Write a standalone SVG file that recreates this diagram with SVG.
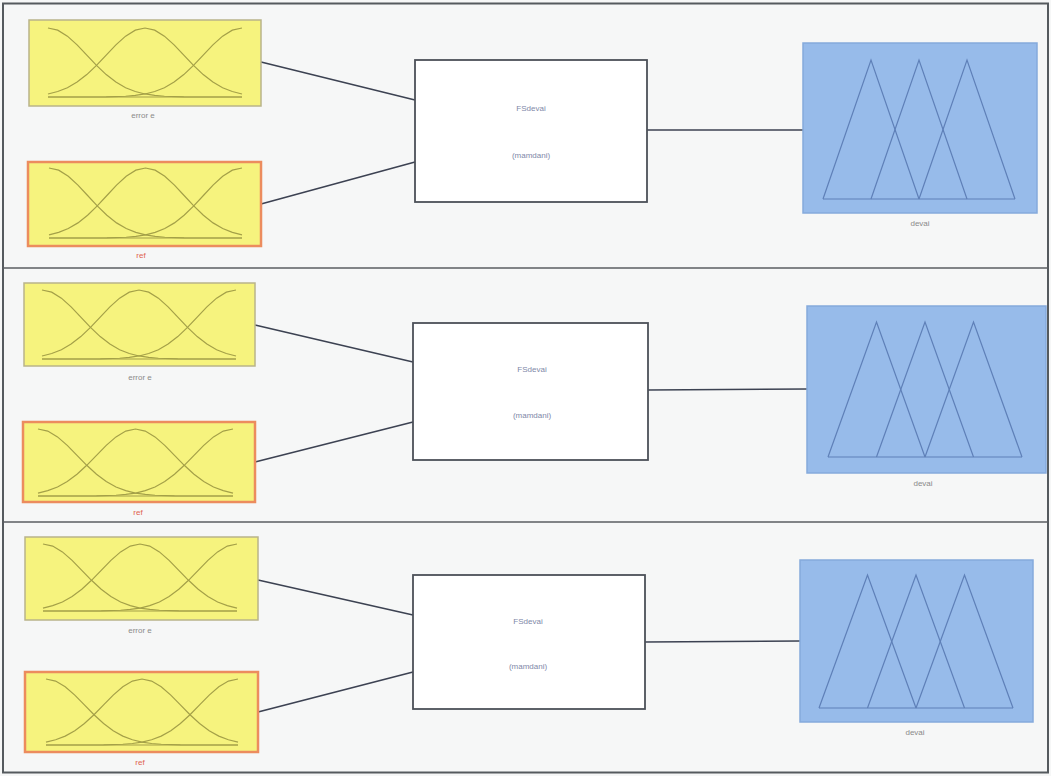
<svg xmlns="http://www.w3.org/2000/svg" width="1051" height="776" viewBox="0 0 1051 776">
<style>
.bg{fill:#f6f7f7}
.frame{fill:none;stroke:#555a5e;stroke-width:2}
.div{stroke:#5a5e62;stroke-width:1.6}
.in1{fill:#f6f37e;stroke:#b9b48a;stroke-width:1.5}
.in2{fill:#f6f37e;stroke:#ec8c5e;stroke-width:2.5}
.fis{fill:#ffffff;stroke:#4c5058;stroke-width:1.8}
.out{fill:#97bbea;stroke:#85aadc;stroke-width:1.5}
.gauss{fill:none;stroke:#a4a048;stroke-width:1.2}
.tri{fill:none;stroke:#5f80b8;stroke-width:1.2}
.conn line{stroke:#3c4252;stroke-width:1.6}
.lbl{font-family:"Liberation Sans",Arial,sans-serif;font-size:8px;fill:#8a8a8a;text-anchor:middle}
.lblr{font-family:"Liberation Sans",Arial,sans-serif;font-size:8px;fill:#e0624e;text-anchor:middle}
.ft{font-family:"Liberation Sans",Arial,sans-serif;font-size:8px;fill:#8088a8;text-anchor:middle}
</style>
<defs>
<g id="mfg">
<polyline vector-effect="non-scaling-stroke" points="0,0 10,3.1 20,11.8 30,24.5 40,39.3 50,54.2 60,67.5 70,78.4 80,86.5 90,92 100,95.6 110,97.7 120,98.9 140,99.8 200,100"/>
<polyline vector-effect="non-scaling-stroke" points="0,95.6 10,92 20,86.5 30,78.4 40,67.5 50,54.2 60,39.3 70,24.5 80,11.8 90,3.1 100,0 110,3.1 120,11.8 130,24.5 140,39.3 150,54.2 160,67.5 170,78.4 180,86.5 190,92 200,95.6"/>
<polyline vector-effect="non-scaling-stroke" points="0,100 60,99.8 80,98.9 90,97.7 100,95.6 110,92 120,86.5 130,78.4 140,67.5 150,54.2 160,39.3 170,24.5 180,11.8 190,3.1 200,0"/>
<line vector-effect="non-scaling-stroke" x1="0" y1="100" x2="200" y2="100"/>
</g>
<g id="mft">
<polyline vector-effect="non-scaling-stroke" points="0,100 50,0 100,100"/>
<polyline vector-effect="non-scaling-stroke" points="50,100 100,0 150,100"/>
<polyline vector-effect="non-scaling-stroke" points="100,100 150,0 200,100"/>
<line vector-effect="non-scaling-stroke" x1="0" y1="100" x2="200" y2="100"/>
</g>
</defs>
<rect class="bg" x="0" y="0" width="1051" height="776"/>
<rect class="frame" x="3" y="3.5" width="1045" height="769"/>
<line class="div" x1="3" y1="268" x2="1048" y2="268"/>
<line class="div" x1="3" y1="522" x2="1048" y2="522"/>

<g class="conn">
<line x1="261" y1="62" x2="415" y2="100"/>
<line x1="261" y1="204" x2="415" y2="162"/>
<line x1="647" y1="130" x2="803" y2="130"/>
<line x1="255" y1="325" x2="413" y2="362"/>
<line x1="255" y1="462" x2="413" y2="422"/>
<line x1="648" y1="390" x2="807" y2="389"/>
<line x1="258" y1="580" x2="413" y2="615"/>
<line x1="258" y1="712" x2="413" y2="672"/>
<line x1="645" y1="642" x2="800" y2="641"/>
</g>

<g id="p1-in1">
<rect class="in1" x="29" y="20" width="232" height="86"/>
<use href="#mfg" class="gauss" transform="translate(48,28) scale(0.97,0.69)"/>
<text class="lbl" x="143" y="118">error e</text>
</g>
<g id="p1-in2">
<rect class="in2" x="28" y="162" width="233" height="84"/>
<use href="#mfg" class="gauss" transform="translate(49,168) scale(0.965,0.70)"/>
<text class="lblr" x="141" y="258">ref</text>
</g>
<g id="p1-fis">
<rect class="fis" x="415" y="60" width="232" height="142"/>
<text class="ft" x="531" y="111">FSdevai</text>
<text class="ft" x="531" y="158">(mamdani)</text>
</g>
<g id="p1-out">
<rect class="out" x="803" y="43" width="234" height="170"/>
<use href="#mft" class="tri" transform="translate(823,60) scale(0.96,1.39)"/>
<text class="lbl" x="920" y="226">devai</text>
</g>

<g id="p2-in1">
<rect class="in1" x="24" y="283" width="231" height="83"/>
<use href="#mfg" class="gauss" transform="translate(42,290) scale(0.97,0.69)"/>
<text class="lbl" x="140" y="380">error e</text>
</g>
<g id="p2-in2">
<rect class="in2" x="23" y="422" width="232" height="80"/>
<use href="#mfg" class="gauss" transform="translate(38,429) scale(0.975,0.67)"/>
<text class="lblr" x="138" y="515">ref</text>
</g>
<g id="p2-fis">
<rect class="fis" x="413" y="323" width="235" height="137"/>
<text class="ft" x="532" y="372">FSdevai</text>
<text class="ft" x="532" y="418">(mamdani)</text>
</g>
<g id="p2-out">
<rect class="out" x="807" y="306" width="239" height="167"/>
<use href="#mft" class="tri" transform="translate(828,322) scale(0.97,1.35)"/>
<text class="lbl" x="923" y="486">devai</text>
</g>

<g id="p3-in1">
<rect class="in1" x="25" y="537" width="233" height="83"/>
<use href="#mfg" class="gauss" transform="translate(43,544) scale(0.97,0.67)"/>
<text class="lbl" x="140" y="633">error e</text>
</g>
<g id="p3-in2">
<rect class="in2" x="25" y="672" width="233" height="80"/>
<use href="#mfg" class="gauss" transform="translate(46,679) scale(0.96,0.66)"/>
<text class="lblr" x="140" y="765">ref</text>
</g>
<g id="p3-fis">
<rect class="fis" x="413" y="575" width="232" height="134"/>
<text class="ft" x="528" y="624">FSdevai</text>
<text class="ft" x="528" y="669">(mamdani)</text>
</g>
<g id="p3-out">
<rect class="out" x="800" y="560" width="233" height="162"/>
<use href="#mft" class="tri" transform="translate(819,575) scale(0.97,1.33)"/>
<text class="lbl" x="915" y="735">devai</text>
</g>
</svg>
